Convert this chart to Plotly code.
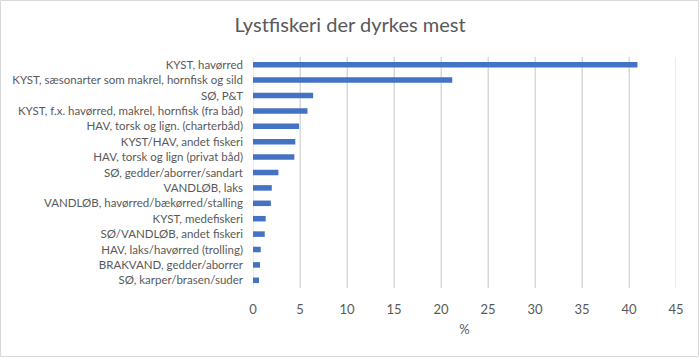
import plotly.graph_objects as go

categories = [
    "KYST, havørred",
    "KYST, sæsonarter som makrel, hornfisk og sild",
    "SØ, P&T",
    "KYST, f.x. havørred, makrel, hornfisk (fra båd)",
    "HAV, torsk og lign. (charterbåd)",
    "KYST/HAV, andet fiskeri",
    "HAV, torsk og lign (privat båd)",
    "SØ, gedder/aborrer/sandart",
    "VANDLØB, laks",
    "VANDLØB, havørred/bækørred/stalling",
    "KYST, medefiskeri",
    "SØ/VANDLØB, andet fiskeri",
    "HAV, laks/havørred (trolling)",
    "BRAKVAND, gedder/aborrer",
    "SØ, karper/brasen/suder",
]
values = [40.9, 21.2, 6.4, 5.8, 4.9, 4.5, 4.4, 2.7, 2.0, 1.9, 1.35, 1.25, 0.82, 0.75, 0.64]
x_ticks = [0, 5, 10, 15, 20, 25, 30, 35, 40, 45]

FONT = "Lato"
GRAY = "#595959"
GRID = "#D9D9D9"

# vertical gridlines at the tick values, on a hidden 0..1 y axis
gx, gy = [], []
for t in x_ticks:
    gx += [t, t, None]
    gy += [0, 1, None]

fig = go.Figure()
fig.add_trace(go.Scatter(
    x=gx, y=gy, mode="lines", yaxis="y",
    line=dict(color=GRID, width=1),
    hoverinfo="skip", cliponaxis=False, showlegend=False,
))
fig.add_trace(go.Bar(
    x=values,
    y=categories,
    orientation="h",
    yaxis="y2",
    marker=dict(color="#4472C4", line=dict(width=0)),
    width=0.36,
))

L, R, T, B = 253, 24, 57, 70
W, H = 700, 358
pw, ph = W - L - R, H - T - B

fig.update_layout(
    width=W, height=H,
    margin=dict(l=L, r=R, t=T, b=B, autoexpand=False),
    paper_bgcolor="white",
    plot_bgcolor="white",
    showlegend=False,
    font=dict(family=FONT, color=GRAY, size=12),
    title=dict(
        text="Lystfiskeri der dyrkes mest",
        x=0.5, xanchor="center",
        y=1 - 25 / H, yanchor="middle",
        font=dict(family=FONT, size=20, color=GRAY),
    ),
    xaxis=dict(
        range=[0, 45],
        tickvals=x_ticks,
        showgrid=True,
        gridcolor=GRID,
        gridwidth=1,
        zeroline=False,
        showline=False,
        ticks="",
        automargin=False,
        ticklabelstandoff=12,
        tickfont=dict(family=FONT, size=13, color=GRAY),
        title=dict(text="%", font=dict(family=FONT, size=13, color=GRAY), standoff=8),
        fixedrange=True,
    ),
    yaxis=dict(
        range=[0, 1],
        visible=False,
        showgrid=False,
        zeroline=False,
        fixedrange=True,
    ),
    yaxis2=dict(
        overlaying="y",
        side="left",
        autorange="reversed",
        type="category",
        showgrid=False,
        zeroline=False,
        showline=False,
        ticks="",
        automargin=False,
        ticklabelstandoff=9,
        tickfont=dict(family=FONT, size=11.5, color=GRAY),
        fixedrange=True,
    ),
    shapes=[dict(
        type="rect",
        xref="paper", yref="paper",
        x0=(0.5 - L) / pw, x1=(698.5 - L) / pw,
        y0=(H - B - 356.5) / ph, y1=(H - B - 0.5) / ph,
        line=dict(color=GRID, width=1),
        fillcolor="rgba(0,0,0,0)",
        layer="above",
    )],
)

fig.write_html(
    "out.html",
    config={"displayModeBar": False, "responsive": False},
    post_script="document.body.style.margin='0px';document.body.style.overflow='hidden';",
)
